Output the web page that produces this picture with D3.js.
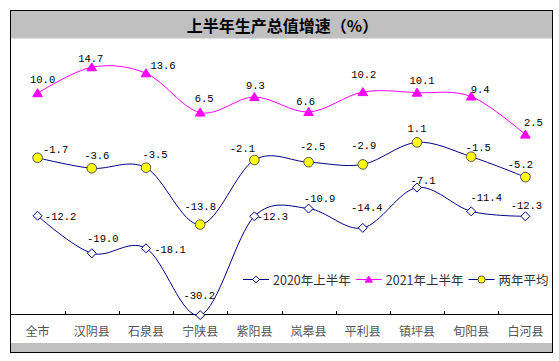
<!DOCTYPE html>
<html>
<head>
<meta charset="utf-8">
<script src="https://cdn.jsdelivr.net/npm/d3@7"></script>
<style>
  body { margin: 0; background: #fff; }
  svg { display: block; }
  .cat { font-family: "Noto Sans CJK SC", sans-serif; font-size: 12px; fill: #555; }
  .val { font-family: "Liberation Mono", "DejaVu Sans Mono", monospace; font-size: 10.5px; fill: #000; }
  .leg { font-family: "Noto Sans CJK SC", sans-serif; font-size: 12.5px; fill: #333; }
</style>
</head>
<body>
<div id="chart"></div>
<script>
// counties along the x axis
var categories = ["全市", "汉阴县", "石泉县", "宁陕县", "紫阳县", "岚皋县", "平利县", "镇坪县", "旬阳县", "白河县"];
var seriesNames = ["2020年上半年", "2021年上半年", "两年平均"];
var values2020 = [-12.2, -19.0, -18.1, -30.2, -12.3, -10.9, -14.4, -7.1, -11.4, -12.3];
var values2021 = [10.0, 14.7, 13.6, 6.5, 9.3, 6.6, 10.2, 10.1, 9.4, 2.5];
var valuesAvg = [-1.7, -3.6, -3.5, -13.8, -2.1, -2.5, -2.9, 1.1, -1.5, -5.2];
var yDomain = [-30, 20];

// label nudges (text centre relative to the point), as placed in the original
var off2020 = [[23, 1], [11, -14], [24, 2], [-1, -19], [18, 1], [11, -10], [4, -20], [6, -7], [15, -13], [1, -10]];
var off2021 = [[5, -13], [-1, -8], [17, -7], [4, -14], [1, -11], [-3, -10], [1, -17], [5, -12], [9, -7], [8, -12]];
var offAvg = [[18, -8], [5, -12], [9, -13], [0, -18], [-12, -11], [4, -15], [1, -18], [0, -13], [7, -9], [-5, -12]];

var W = 559, H = 361;
var frame = { left: 10.5, right: 552.5, top: 10.5, bottom: 352.5 };
var plotTop = 38, axisY = 314;

var svg = d3.select("#chart").append("svg")
  .attr("width", W).attr("height", H);

var x = d3.scaleBand().domain(categories).range([frame.left, frame.right]);
var xc = function (c) { return x(c) + x.bandwidth() / 2; };
var y = d3.scaleLinear().domain(yDomain).range([axisY, plotTop]);

// title band and bottom band
svg.append("rect").attr("x", frame.left).attr("y", frame.top)
  .attr("width", frame.right - frame.left).attr("height", 28).attr("fill", "#c0c0c0");
svg.append("rect").attr("x", frame.left).attr("y", 343)
  .attr("width", frame.right - frame.left).attr("height", frame.bottom - 343).attr("fill", "#c0c0c0");
svg.append("rect").attr("x", frame.left).attr("y", frame.top)
  .attr("width", frame.right - frame.left).attr("height", frame.bottom - frame.top)
  .attr("fill", "none").attr("stroke", "#000").attr("stroke-width", 1);

svg.append("text")
  .attr("x", (frame.left + frame.right) / 2 + 1).attr("y", 25)
  .attr("text-anchor", "middle").attr("dominant-baseline", "central")
  .style("font-family", "\"Noto Sans CJK SC\", sans-serif")
  .style("font-size", "16px").style("font-weight", "bold")
  .text("上半年生产总值增速（%）");

// x axis line + ticks between categories
svg.append("line").attr("x1", frame.left).attr("x2", frame.right)
  .attr("y1", axisY + 0.5).attr("y2", axisY + 0.5).attr("stroke", "#000");
svg.selectAll(".tick").data(categories.slice(1)).enter().append("line")
  .attr("x1", function (d) { return Math.round(x(d)) + 0.5; })
  .attr("x2", function (d) { return Math.round(x(d)) + 0.5; })
  .attr("y1", axisY - 3).attr("y2", axisY).attr("stroke", "#000");
svg.selectAll(".cat").data(categories).enter().append("text")
  .attr("class", "cat")
  .attr("x", xc).attr("y", 330)
  .attr("text-anchor", "middle").attr("dominant-baseline", "central")
  .text(function (d) { return d; });

var line = d3.line()
  .x(function (d, i) { return xc(categories[i]); })
  .y(function (d) { return y(d); })
  .curve(d3.curveCatmullRom.alpha(0));

var series = [
  { name: seriesNames[0], values: values2020, offs: off2020, stroke: "#000080", marker: "diamond" },
  { name: seriesNames[1], values: values2021, offs: off2021, stroke: "#ff00ff", marker: "triangle" },
  { name: seriesNames[2], values: valuesAvg, offs: offAvg, stroke: "#000080", marker: "circle" }
];

function drawMarker(g, type, k) {
  if (type === "diamond") {
    g.append("path").attr("d", "M0,-4.5L4.5,0L0,4.5L-4.5,0Z")
      .attr("transform", "scale(" + k + ")")
      .attr("fill", "#fff").attr("stroke", "#000080").attr("stroke-width", 1 / k);
  } else if (type === "triangle") {
    g.append("path").attr("d", "M0,-4.5L4.8,3.5L-4.8,3.5Z")
      .attr("transform", "scale(" + k + ")")
      .attr("fill", "#ff00ff").attr("stroke", "#ff00ff").attr("stroke-width", 1 / k);
  } else {
    g.append("circle").attr("r", 4.8 * k)
      .attr("fill", "#ffff00").attr("stroke", "#555").attr("stroke-width", 1);
  }
}

series.forEach(function (s) {
  svg.append("path").attr("d", line(s.values))
    .attr("fill", "none").attr("stroke", s.stroke).attr("stroke-width", 1);
});

series.forEach(function (s) {
  s.values.forEach(function (v, i) {
    var g = svg.append("g")
      .attr("transform", "translate(" + xc(categories[i]) + "," + y(v) + ")");
    drawMarker(g, s.marker, 1);
  });
  svg.selectAll(null).data(s.values).enter().append("text")
    .attr("class", "val")
    .attr("x", function (d, i) { return xc(categories[i]) + s.offs[i][0]; })
    .attr("y", function (d, i) { return y(d) + s.offs[i][1]; })
    .attr("text-anchor", "middle").attr("dominant-baseline", "central")
    .text(function (d) { return d3.format(".1f")(d).replace("−", "-"); });
});

// legend
var lx = 243, ly = 279;
series.forEach(function (s) {
  svg.append("line").attr("x1", lx).attr("x2", lx + 26)
    .attr("y1", ly + 0.5).attr("y2", ly + 0.5).attr("stroke", s.stroke);
  var g = svg.append("g").attr("transform", "translate(" + (lx + 13) + "," + (ly + 0.5) + ")");
  drawMarker(g, s.marker, 0.75);
  var t = svg.append("text").attr("class", "leg")
    .attr("x", lx + 30).attr("y", ly)
    .attr("dominant-baseline", "central")
    .text(s.name);
  lx += 30 + t.node().getComputedTextLength() + 5;
});
</script>
</body>
</html>
